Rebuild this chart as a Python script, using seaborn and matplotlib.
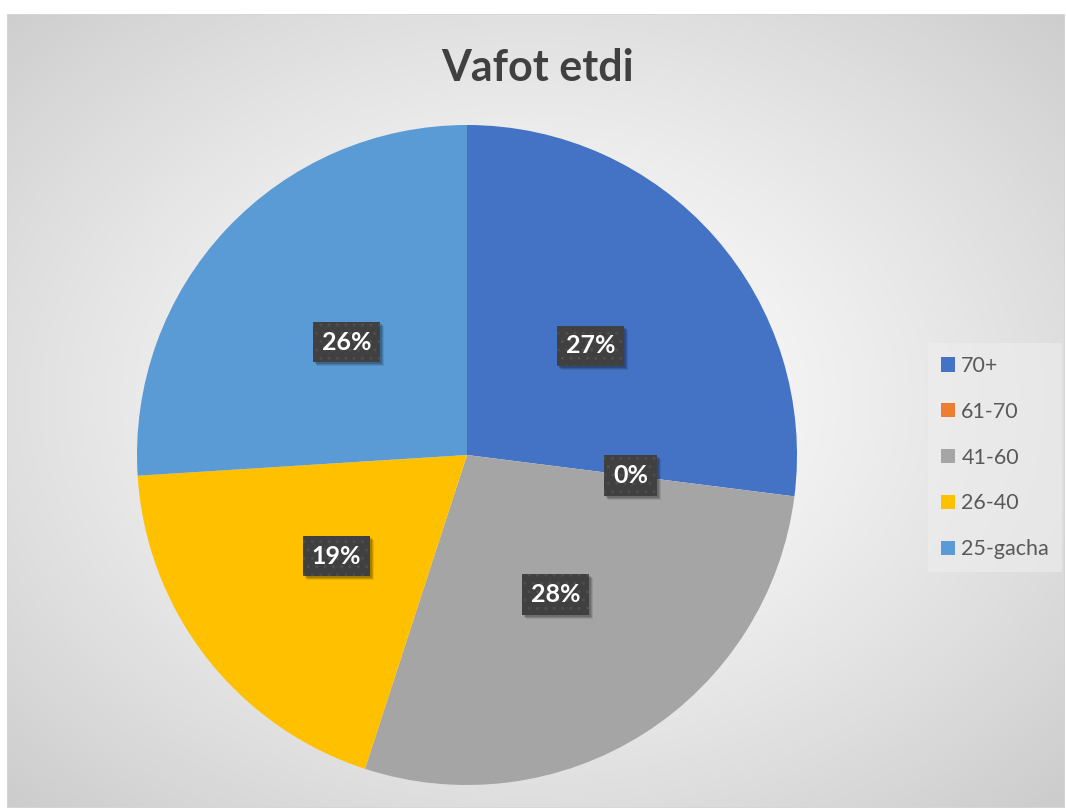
import numpy as np
import matplotlib
matplotlib.use("Agg")
import matplotlib.pyplot as plt
from matplotlib.patches import Patch, Rectangle
import seaborn as sns

# Data
categories = ["70+", "61-70", "41-60", "26-40", "25-gacha"]
shares = [27, 0, 28, 19, 26]
title = "Vafot etdi"
slice_colors = ["#4472C4", "#ED7D31", "#A5A5A5", "#FFC000", "#5B9BD5"]

sns.set_theme(style="white")
plt.rcParams["font.family"] = ["Lato", "DejaVu Sans"]
palette = sns.color_palette(slice_colors)

W, H = 1066, 808
fig = plt.figure(figsize=(W / 100, H / 100), dpi=100)
fig.patch.set_facecolor("white")

# Chart area with a soft radial gradient
fx0, fy0, fx1, fy1 = 7, 14, 1065, 808
bg = fig.add_axes([fx0 / W, 1 - fy1 / H, (fx1 - fx0) / W, (fy1 - fy0) / H], zorder=0)
bg.set_axis_off()
xs = np.linspace(fx0, fx1, 400)
ys = np.linspace(fy0, fy1, 300)
X, Y = np.meshgrid(xs, ys)
cx, cy = 530, 400
d = np.sqrt(((X - cx) / 560.0) ** 2 + ((Y - cy) / 420.0) ** 2)
val = 1.0 - 0.20 * np.clip(d / 1.35, 0, 1) ** 1.3
bg.imshow(np.dstack([val, val, val]), extent=[0, 1, 0, 1], aspect="auto",
          interpolation="bilinear", origin="upper")
bg.add_patch(Rectangle((0, 0), 1, 1, transform=bg.transAxes, fill=False,
                       edgecolor="#d6d6d6", linewidth=1.2))
bg.set_xlim(0, 1)
bg.set_ylim(0, 1)

# Pie
pcx, pcy, r = 467, 455, 330
ax = fig.add_axes([(pcx - r) / W, (H - pcy - r) / H, 2 * r / W, 2 * r / H], zorder=2)
ax.set_axis_off()
wedges, _, autotexts = ax.pie(
    shares, colors=palette, startangle=90, counterclock=False,
    autopct=lambda p: f"{p:.0f}%", pctdistance=0.5, radius=1,
    wedgeprops=dict(linewidth=0),
)
ax.set_xlim(-1, 1)
ax.set_ylim(-1, 1)
ax.set_aspect("equal")

label_box = dict(boxstyle="square,pad=0.35", facecolor="#404040",
                 edgecolor="#4e4e4e", hatch="..", linewidth=0)
for t in autotexts:
    t.set_color("white")
    t.set_fontsize(18)
    t.set_fontweight("bold")
    t.set_bbox(label_box)

# Data labels on an overlay in pixel units, each with a soft drop shadow
fig.canvas.draw()
renderer = fig.canvas.get_renderer()
overlay = fig.add_axes([0, 0, 1, 1], zorder=3, facecolor="none")
overlay.set_axis_off()
overlay.set_xlim(0, W)
overlay.set_ylim(0, H)
for t in autotexts:
    ext = t.get_bbox_patch().get_window_extent(renderer)
    for k, a in ((4, 0.09), (3, 0.13), (2, 0.17)):
        overlay.add_patch(Rectangle((ext.x0 + k, ext.y0 - k), ext.width, ext.height,
                                    facecolor="black", alpha=a, linewidth=0))
    t.set_visible(False)
    overlay.text((ext.x0 + ext.x1) / 2, (ext.y0 + ext.y1) / 2, t.get_text(),
                 ha="center", va="center", fontsize=18, fontweight="bold",
                 color="white", bbox=label_box)

# Title
fig.text(538 / W, 1 - 68 / H, title, ha="center", va="center",
         fontsize=31, fontweight="bold", color="#404040")

# Legend
handles = [Patch(facecolor=c, edgecolor="none") for c in palette]
leg = fig.legend(handles, categories, loc="upper left",
                 bbox_to_anchor=(928 / W, 1 - 343 / H),
                 frameon=True, fontsize=15.5, handlelength=0.65, handleheight=0.65,
                 handletextpad=0.3, labelspacing=1.2, borderpad=0.6,
                 fancybox=False, borderaxespad=0)
leg.get_frame().set_facecolor("#eeeeee")
leg.get_frame().set_alpha(0.6)
leg.get_frame().set_edgecolor("none")
for txt in leg.get_texts():
    txt.set_color("#595959")

fig.savefig("out.png", dpi=100, facecolor=fig.get_facecolor())
